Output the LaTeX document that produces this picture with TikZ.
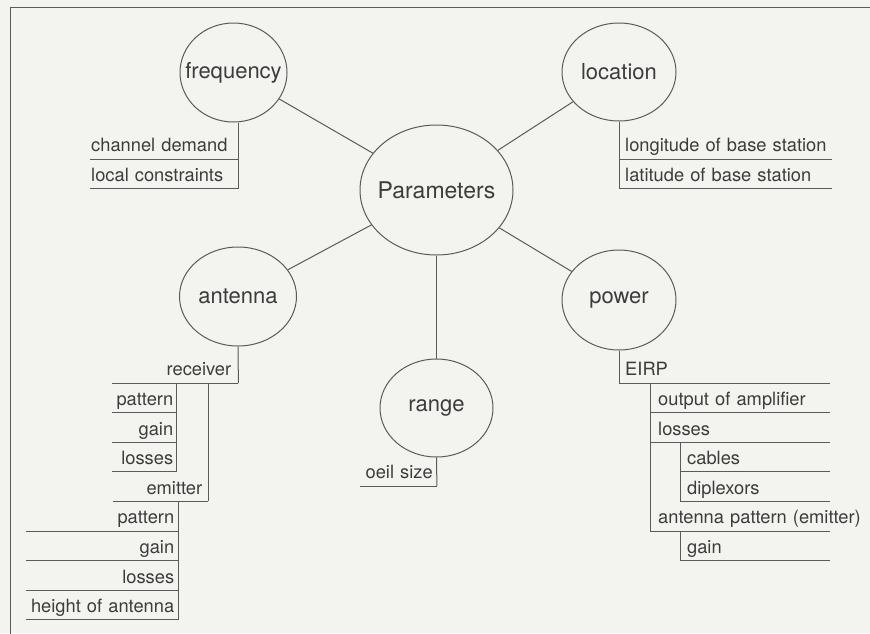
\documentclass[tikz,border=0pt]{standalone}
\usepackage{fontspec}
\setmainfont{TeX Gyre Heros}
\usepackage{xcolor}
\usepackage{tikz}
\usetikzlibrary{shapes.geometric}

\definecolor{paper}{RGB}{243,243,240}
\definecolor{linegray}{RGB}{90,90,90}
\definecolor{inkgray}{RGB}{60,60,60}

\newcommand{\bubtext}[1]{\makebox[0pt]{#1}}

\begin{document}
\begin{tikzpicture}[x=1pt,y=-1pt,
    bubble/.style={ellipse,draw=linegray,line width=1pt,inner sep=0pt,text=inkgray,font=\fontsize{22}{24}\selectfont},
    row/.style={anchor=south west,inner ysep=0pt,inner xsep=#1,text height=14pt,text depth=7pt,text=inkgray,font=\fontsize{18.3}{20}\selectfont},
    row/.default=4pt,
    rule/.style={draw=linegray,line width=1pt},
  ]
    \path[use as bounding box,fill=paper] (0,0) rectangle (870,633);
    \draw[rule] (10,640) -- (10,7) -- (880,7);

    \node[bubble,minimum width=107pt,minimum height=99pt] (freq) at (233.5,72.5) {\bubtext{frequency}};
    \node[bubble,minimum width=114pt,minimum height=98pt] (loc) at (619,72) {\bubtext{location}};
    \node[bubble,minimum width=153pt,minimum height=130pt,font=\fontsize{23}{25}\selectfont] (par) at (436.5,190) {\bubtext{Parameters}};
    \node[bubble,minimum width=117pt,minimum height=99pt] (ant) at (238,296.5) {\bubtext{antenna}};
    \node[bubble,minimum width=114pt,minimum height=100pt] (pow) at (619,300) {\bubtext{power}};
    \node[bubble,minimum width=113pt,minimum height=98pt] (rng) at (436.5,408) {\bubtext{range}};

    \foreach \b in {freq,loc,ant,pow,rng}
        \draw[rule] (par) -- (\b);

    % frequency
    \node[row=1pt,text width=146pt,align=left] (cd) at (90,159) {\mbox{channel demand}};
    \node[row=1pt,text width=146pt,align=left] (lc) at (90,188.6) {\mbox{local constraints}};
    % location
    \node[row=6pt,text width=201pt,align=left] (lon) at (619,159) {\mbox{longitude of base station}};
    \node[row=6pt,text width=201pt,align=left] (lat) at (619,188.6) {\mbox{latitude of base station}};
    % antenna
    \node[row=7pt,text width=112pt,align=right] (recv) at (112,383) {receiver};
    \node[row=3pt,text width=58pt,align=right] (rpat) at (112,412.6) {pattern};
    \node[row=3pt,text width=58pt,align=right] (rgain) at (112,442.2) {gain};
    \node[row=3pt,text width=58pt,align=right] (rlos) at (112,471.8) {losses};
    \node[row=6pt,text width=83pt,align=right] (emit) at (113,501.4) {emitter};
    \node[row,text width=144pt,align=right] (epat) at (26,531) {pattern};
    \node[row,text width=144pt,align=right] (egain) at (26,560.6) {gain};
    \node[row,text width=144pt,align=right] (elos) at (26,590.2) {losses};
    \node[row,text width=144pt,align=right] (ehgt) at (26,619.8) {\mbox{height of antenna}};
    % range
    \node[row,text width=68.5pt,align=right] (cell) at (360,486) {\mbox{oeil size}};
    % power
    \node[row=6pt,text width=199pt,align=left] (eirp) at (619,383) {EIRP};
    \node[row=8pt,text width=164pt,align=left] (out) at (650,412.6) {\mbox{output of amplifier}};
    \node[row=8pt,text width=164pt,align=left] (plos) at (650,442.2) {losses};
    \node[row=7pt,text width=136pt,align=left] (cab) at (680,471.8) {cables};
    \node[row=7pt,text width=136pt,align=left] (dip) at (680,501.4) {diplexors};
    \node[row=8pt,text width=164pt,align=left] (ape) at (650,531) {\mbox{antenna pattern (emitter)}};
    \node[row=7pt,text width=136pt,align=left] (pgain) at (680,560.6) {gain};

    \foreach \r in {cd,lc,lon,lat,recv,rpat,rgain,rlos,emit,epat,egain,elos,ehgt,cell,eirp,out,plos,cab,dip,ape,pgain}
        \draw[rule] (\r.south west) -- (\r.south east);

    % spines
    \draw[rule] (lc.south east |- freq.south) -- (lc.south east);
    \draw[rule] (loc.south) -- (lat.south west);
    \draw[rule] (ant.south) -- (recv.south east);
    \draw[rule] (emit.south east |- recv.south) -- (emit.south east);
    \draw[rule] (rlos.south east |- recv.south) -- (rlos.south east);
    \draw[rule] (ehgt.south east |- emit.south) -- (ehgt.south east);
    \draw[rule] (rng.south) -- (cell.south east);
    \draw[rule] (pow.south) -- (eirp.south west);
    \draw[rule] (out.south west |- eirp.south) -- (ape.south west);
    \draw[rule] (dip.south west |- plos.south) -- (dip.south west);
    \draw[rule] (pgain.south west |- ape.south) -- (pgain.south west);
\end{tikzpicture}
\end{document}
